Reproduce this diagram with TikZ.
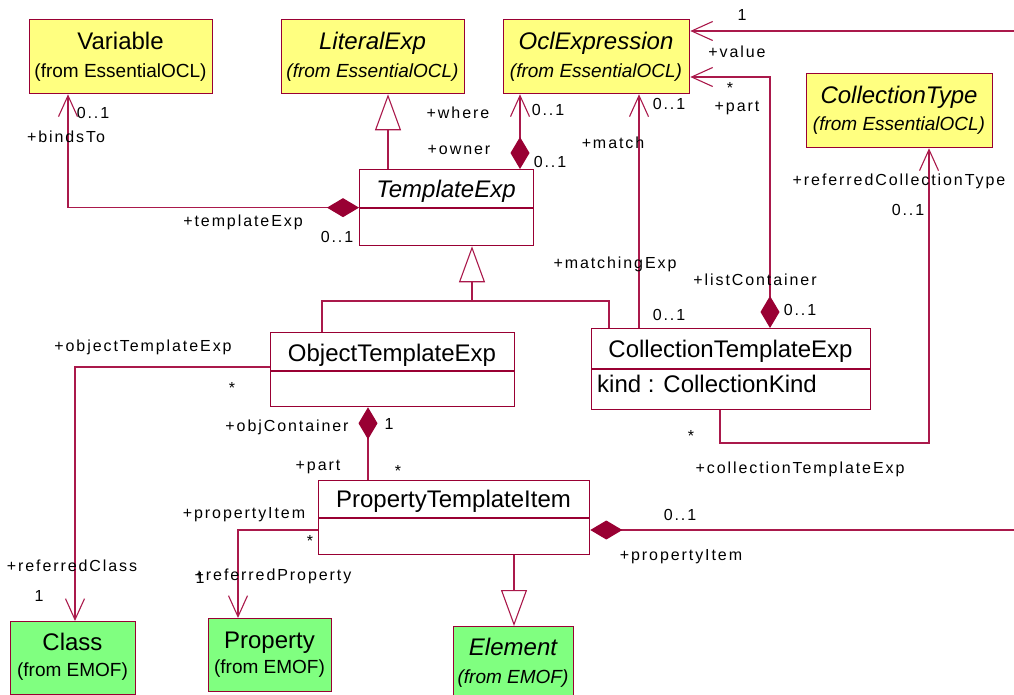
\documentclass[tikz,border=0pt]{standalone}
\usepackage{fontspec}
\usetikzlibrary{arrows.meta,calc}

\newfontfamily\umlsans{Liberation Sans}
\newfontfamily\umlspaced[LetterSpace=12]{Liberation Sans}
\newcommand\umltitle{\umlsans\fontsize{24}{28}\selectfont}
\newcommand\umlsub{\umlsans\fontsize{19}{23}\selectfont}
\newcommand\umllabel{\umlspaced\fontsize{16}{19}\selectfont}

\definecolor{boxred}{RGB}{153,0,51}
\definecolor{linered}{RGB}{170,25,75}
\definecolor{oclyellow}{RGB}{255,255,128}
\definecolor{emofgreen}{RGB}{128,255,128}

\tikzset{
  umlcomp/.tip={Diamond[length=32pt,width=19pt,color=boxred,fill=boxred]},
  umlnav/.tip={Straight Barb[length=21pt,width=19pt]},
  umlgen/.tip={Triangle[open,length=36pt,width=26pt]},
  classbox/.style={draw=boxred, line width=1.3pt, fill=white, inner sep=0pt, anchor=north west},
  ybox/.style={classbox, fill=oclyellow},
  gbox/.style={classbox, fill=emofgreen},
  title/.style={font=\umltitle, inner sep=0pt, text height=17pt, text depth=0pt},
  subtitle/.style={font=\umlsub, inner sep=0pt, text height=13.6pt, text depth=0pt},
  attr/.style={font=\umltitle, inner sep=0pt, text height=17pt, text depth=0pt, anchor=west},
  lbl/.style={font=\umllabel, inner sep=0pt, text height=11.5pt, text depth=0pt},
  divider/.style={draw=boxred, line width=1.1pt},
  assoc/.style={draw=linered, line width=1.1pt},
  gen/.style={draw=linered, line width=1.1pt, -umlgen},
}

\begin{document}
\begin{tikzpicture}[x=1pt, y=-1pt]
\useasboundingbox (0,0) rectangle (1014,695);
\clip (0,0) rectangle (1014,695);

% ---------- classes from EssentialOCL ----------
\node[ybox, minimum width=183pt, minimum height=74pt] (var) at (29,19) {};
\node[title] (varT) at (120.5,41) {Variable};
\node[subtitle] (varS) at (120.5,71) {(from EssentialOCL)};

\node[ybox, minimum width=183pt, minimum height=74pt] (lit) at (281,19) {};
\node[title] (litT) at (372.5,41) {\itshape LiteralExp};
\node[subtitle] (litS) at (372.5,71) {\itshape (from EssentialOCL)};

\node[ybox, minimum width=186pt, minimum height=74pt] (ocl) at (503,19) {};
\node[title] (oclT) at (596,41) {\itshape OclExpression};
\node[subtitle] (oclS) at (596,71) {\itshape (from EssentialOCL)};

\node[ybox, minimum width=186pt, minimum height=74pt] (ctype) at (806,73) {};
\node[title] (ctypeT) at (899,95) {\itshape CollectionType};
\node[subtitle] (ctypeS) at (899,124) {\itshape (from EssentialOCL)};

% ---------- template classes ----------
\node[classbox, minimum width=174pt, minimum height=76pt] (tmpl) at (359,169) {};
\node[title] (tmplT) at (446,189) {\itshape TemplateExp};
\draw[divider] (tmpl.west |- 0,208) -- (tmpl.east |- 0,208);

\node[classbox, minimum width=244pt, minimum height=74pt] (ote) at (270,332) {};
\node[title] (oteT) at (392,353) {ObjectTemplateExp};
\draw[divider] (ote.west |- 0,371) -- (ote.east |- 0,371);

\node[classbox, minimum width=279pt, minimum height=81pt] (cte) at (591,328) {};
\node[title] (cteT) at (730.5,349) {CollectionTemplateExp};
\draw[divider] (cte.west |- 0,369) -- (cte.east |- 0,369);
\node[attr] (cteA) at (597,384) {kind : CollectionKind};

\node[classbox, minimum width=271pt, minimum height=74pt] (pti) at (318,480) {};
\node[title] (ptiT) at (453.5,499) {PropertyTemplateItem};
\draw[divider] (pti.west |- 0,518) -- (pti.east |- 0,518);

% ---------- classes from EMOF ----------
\node[gbox, minimum width=125pt, minimum height=73pt] (cls) at (10,621) {};
\node[title] (clsT) at (72.5,642) {Class};
\node[subtitle] (clsS) at (72.5,670) {(from EMOF)};

\node[gbox, minimum width=123pt, minimum height=73pt] (prop) at (208,618) {};
\node[title] (propT) at (269.5,640) {Property};
\node[subtitle] (propS) at (269.5,667) {(from EMOF)};

\node[gbox, minimum width=120pt, minimum height=80pt] (elem) at (453,626) {};
\node[title] (elemT) at (513,647) {\itshape Element};
\node[subtitle] (elemS) at (513,677) {\itshape (from EMOF)};

% ---------- routing points ----------
\coordinate (bindX) at (68,0);
\coordinate (litX) at (388,0);
\coordinate (ownX) at (520,0);
\coordinate (matchX) at (639,0);
\coordinate (partTurn) at (770,77);
\coordinate (valTop) at (1014,31);
\coordinate (valBot) at (1014,530);
\coordinate (genJoin) at (472,301);
\coordinate (oteX) at (322,0);
\coordinate (cteX) at (609,0);
\coordinate (clsX) at (75,0);
\coordinate (objX) at (368,0);
\coordinate (propTurn) at (238,530);
\coordinate (elemX) at (514,0);
\coordinate (ctDown) at (720,443);
\coordinate (ctCorner) at (929,443);

% ---------- associations ----------
\draw[assoc, umlcomp-umlnav] (tmpl.west) -| (bindX |- var.south);
\draw[assoc, umlcomp-umlnav] (ownX |- tmpl.north) -- (ownX |- ocl.south);
\draw[assoc, -umlnav] (matchX |- cte.north) -- (matchX |- ocl.south);
\draw[assoc, umlcomp-umlnav] (partTurn |- cte.north) -- (partTurn) -- (ocl.east |- partTurn);
\draw[assoc, -umlnav] (valTop) -- (ocl.east |- valTop);
\draw[assoc, umlcomp-] (pti.east |- valBot) -- (valBot);
\draw[assoc, -umlnav] (ctDown |- cte.south) -- (ctDown) -- (ctCorner) -- (ctCorner |- ctype.south);
\draw[assoc, -umlnav] (ote.west |- 0,367) -| (clsX |- cls.north);
\draw[assoc, umlcomp-] (objX |- ote.south) -- (objX |- pti.north);
\draw[assoc, -umlnav] (pti.west |- propTurn) -- (propTurn) -- (propTurn |- prop.north);

% ---------- generalizations ----------
\draw[gen] (litX |- tmpl.north) -- (litX |- lit.south);
\draw[assoc] (oteX |- ote.north) |- (genJoin) -| (cteX |- cte.north);
\draw[gen] (genJoin) -- (genJoin |- tmpl.south);
\draw[gen] (elemX |- pti.south) -- (elemX |- elem.north);

% ---------- role names and multiplicities ----------
\node[lbl] (l1) at (93,113) {0..1};
\node[lbl] (l2) at (66,137) {+bindsTo};
\node[lbl] (l3) at (243,221) {+templateExp};
\node[lbl] (l4) at (337,237) {0..1};
\node[lbl] (l5) at (458,113) {+where};
\node[lbl] (l6) at (548,110) {0..1};
\node[lbl] (l7) at (459,149) {+owner};
\node[lbl] (l8) at (550,162) {0..1};
\node[lbl] (l9) at (613,143) {+match};
\node[lbl] (l10) at (669,104) {0..1};
\node[lbl] (l11) at (730,88) {*};
\node[lbl] (l12) at (737,106) {+part};
\node[lbl] (l13) at (742,15) {1};
\node[lbl] (l14) at (737,52) {+value};
\node[lbl] (l15) at (899,180) {+referredCollectionType};
\node[lbl] (l16) at (908,210) {0..1};
\node[lbl] (l17) at (615,263) {+matchingExp};
\node[lbl] (l18) at (755,280) {+listContainer};
\node[lbl] (l19) at (669,315) {0..1};
\node[lbl] (l20) at (800,310) {0..1};
\node[lbl] (l21) at (143,346) {+objectTemplateExp};
\node[lbl] (l22) at (232,388) {*};
\node[lbl] (l23) at (287,426) {+objContainer};
\node[lbl] (l24) at (389,424) {1};
\node[lbl] (l25) at (318,465) {+part};
\node[lbl] (l26) at (398,471) {*};
\node[lbl] (l27) at (691,436) {*};
\node[lbl] (l28) at (800,468) {+collectionTemplateExp};
\node[lbl] (l29) at (244,513) {+propertyItem};
\node[lbl] (l30) at (310,541) {*};
\node[lbl] (l31) at (680,515) {0..1};
\node[lbl] (l32) at (681,555) {+propertyItem};
\node[lbl] (l33) at (72,566) {+referredClass};
\node[lbl] (l34) at (39,596) {1};
\node[lbl] (l35) at (273,575) {+referredProperty};
\node[lbl] (l36) at (200,578) {1};
\end{tikzpicture}
\end{document}
